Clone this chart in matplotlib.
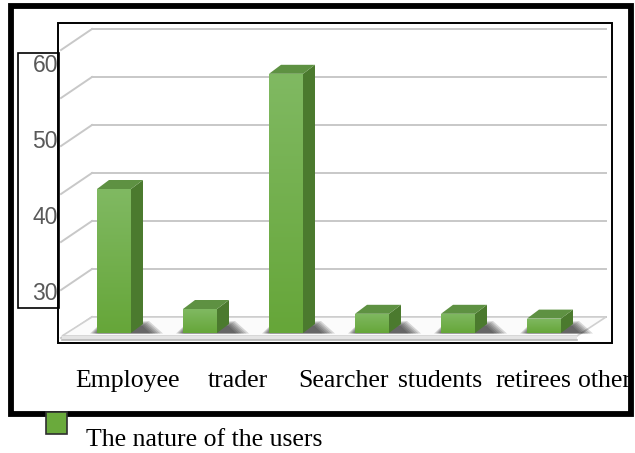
import matplotlib.pyplot as plt
import numpy as np
from matplotlib.patches import Polygon, Rectangle
from matplotlib.colors import LinearSegmentedColormap
from matplotlib.transforms import Affine2D

categories = ['Employee', 'trader', 'Searcher', 'students', 'retirees', 'other']
values = [30, 5, 54, 4, 4, 3]
grid_values = [0, 10, 20, 30, 40, 50, 60]
tick_labels = ['60', '50', '40', '30']
legend_label = 'The nature of the users'

W, H = 635, 453
fig = plt.figure(figsize=(W / 100, H / 100), dpi=100)
ax = fig.add_axes([0, 0, 1, 1])
ax.axis('off')

# pixel layout: category i centred at x0 + xs*i, value 0 at y0, ys px per unit
x0, xs = 114, 86
y0, ys = 333, 4.8
ax.set_xlim(-x0 / xs, (W - x0) / xs)
ax.set_ylim(-(H - y0) / ys, y0 / ys)

def dx(px):
    return (px - x0) / xs

def dy(py):
    return (y0 - py) / ys

# pixel transform (y down) for frames and texts
pix = Affine2D().scale(1 / W, -1 / H).translate(0, 1) + fig.transFigure

grid_c = '#c8c8c8'
back = 16 / ys      # back wall sits 16 px above the bar base
for v in grid_values:
    yb = v + back
    ax.plot([dx(92), dx(606)], [yb, yb], color=grid_c, lw=1.4, zorder=1)
    ax.plot([dx(92), dx(61)], [yb, yb - 21 / ys], color=grid_c, lw=1.4, zorder=1)

# floor
floor = Polygon([(dx(92), dy(317)), (dx(606), dy(317)), (dx(577), dy(336)), (dx(62), dy(336))],
                closed=True, facecolor='#fbfbfb', edgecolor='#d0d0d0', lw=1.2, zorder=1)
ax.add_patch(floor)
ax.add_patch(Rectangle((62, 336), 515, 4, transform=pix, fc='#e4e4e4', ec='none', zorder=1))
ax.plot([dx(62), dx(577)], [dy(340), dy(340)], color='#b8b8b8', lw=1.2, zorder=1)

idx = np.arange(len(categories))
bw = 34 / xs
ddx, ddy = 12 / xs, 9 / ys

# soft shadows
for i in idx:
    l, r = i - bw / 2, i + bw / 2
    for k in range(6):
        s = k * 2.5
        sh = Polygon([(l - (7 - s * 0.6) / xs, dy(333.5)), (r + ddx + (20 - s) / xs, dy(333.5)),
                      (r + ddx + (6 - s * 0.5) / xs, dy(321 + k)), (l + 3 / xs, dy(324 + k * 0.5))],
                     closed=True, facecolor='#1a1a1a', edgecolor='none', alpha=0.16, zorder=2)
        ax.add_patch(sh)

bars = ax.bar(idx, values, width=bw, color='none', edgecolor='none', zorder=3)
cmap = LinearSegmentedColormap.from_list('g', ['#66a639', '#80b962'])
grad = np.linspace(0, 1, 100).reshape(-1, 1)
for i, b in zip(idx, bars):
    v = b.get_height()
    l, r = b.get_x(), b.get_x() + b.get_width()
    im = ax.imshow(grad, extent=(l, r, 0, v), origin='lower', cmap=cmap, aspect='auto', zorder=3)
    im.set_clip_path(b)
    side = Polygon([(r, 0), (r + ddx, ddy), (r + ddx, v + ddy), (r, v)], closed=True,
                   facecolor='#4b7a2e', edgecolor='none', zorder=3)
    top = Polygon([(l, v), (r, v), (r + ddx, v + ddy), (l + ddx, v + ddy)], closed=True,
                  facecolor='#5e9142', edgecolor='none', zorder=3)
    ax.add_patch(side)
    ax.add_patch(top)

ax.set_xlim(-x0 / xs, (W - x0) / xs)
ax.set_ylim(-(H - y0) / ys, y0 / ys)

# frames
ax.add_patch(Rectangle((58, 23), 554, 320, transform=pix, fill=False, ec='black', lw=1.4, zorder=5))
ax.add_patch(Rectangle((18, 53), 41, 255, transform=pix, fill=False, ec='black', lw=1.2, zorder=5))

# value labels in the side box
label_y = [66, 141, 218, 293]
for t, yy in zip(tick_labels, label_y):
    ax.text(58, yy, t, transform=pix, ha='right', va='center', color='#595959',
            fontsize=16.5, family='Liberation Sans', zorder=6)

# category labels
label_x = [75, 208, 298, 398, 495, 578]
for c, xx in zip(categories, label_x):
    ax.text(xx, 387, c, transform=pix, ha='left', va='baseline', color='black',
            fontsize=18.5, family='Liberation Serif', zorder=6)

# outer thick border
ax.add_patch(Rectangle((10.5, 5.5), 620.5, 408, transform=pix, fill=False, ec='black', lw=4.2,
                       joinstyle='miter', zorder=10))

# legend
ax.add_patch(Rectangle((46, 412), 21, 22, transform=pix, fc='#6aaa3c', ec='#2f2f2f', lw=1.2, zorder=11))
ax.text(86, 446, legend_label, transform=pix, ha='left', va='baseline', color='black',
        fontsize=18.5, family='Liberation Serif', zorder=6)

fig.savefig('out.png', dpi=100)
